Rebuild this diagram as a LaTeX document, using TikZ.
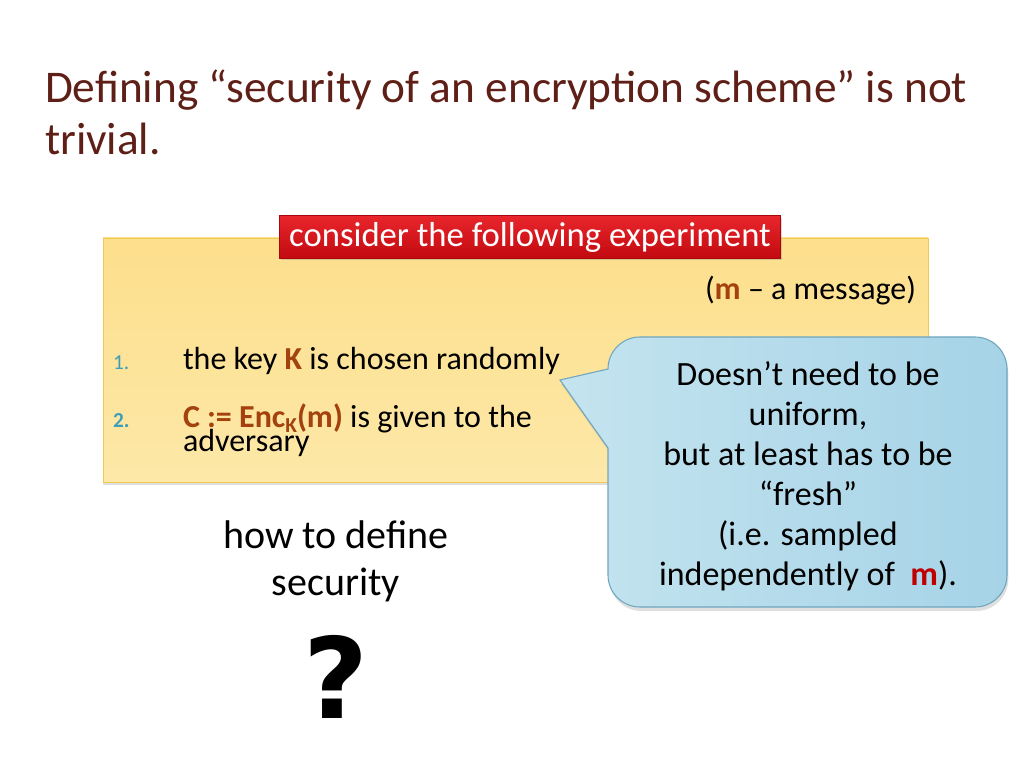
\documentclass[tikz,border=0pt]{standalone}
\usepackage{fontspec}
\setmainfont{Carlito}
\newfontfamily\qfont{DejaVu Sans}
\usetikzlibrary{positioning,shadows}

\definecolor{titlebrown}{HTML}{5E1F17}
\definecolor{keybrown}{HTML}{A3420E}
\definecolor{numteal}{HTML}{3D9EB8}
\definecolor{msgred}{HTML}{C00000}
\definecolor{boxtop}{HTML}{FDDF8C}
\definecolor{boxbottom}{HTML}{FDE8A8}
\definecolor{boxedge}{HTML}{F1C955}
\definecolor{labeltop}{HTML}{E8262C}
\definecolor{labelbottom}{HTML}{C20A10}
\definecolor{labeledge}{HTML}{A8070B}
\definecolor{bubbleleft}{HTML}{C4E4EF}
\definecolor{bubbleright}{HTML}{A6D3E7}
\definecolor{bubbleedge}{HTML}{6FA6BE}

\newcommand{\kb}[1]{\textbf{\textcolor{keybrown}{#1}}}
\newcommand{\tightlines}{\lineskiplimit=-30pt\relax}

\tikzset{
	every node/.style={inner sep=0pt, outer sep=0pt},
	titletext/.style={text=titlebrown, font=\fontsize{34}{39}\selectfont, align=left, anchor=base west},
	expbox/.style={draw=boxedge, line width=0.6pt, top color=boxtop, bottom color=boxbottom,
		drop shadow={opacity=0.25, shadow xshift=0pt, shadow yshift=-2pt}},
	redlabel/.style={draw=labeledge, line width=0.6pt, top color=labeltop, bottom color=labelbottom,
		text=white, font=\fontsize{26}{30}\selectfont, minimum width=376pt, minimum height=32pt,
		drop shadow={opacity=0.3, shadow xshift=1pt, shadow yshift=-1.5pt}},
	bodytext/.style={font=\fontsize{24}{18}\selectfont\tightlines, align=left, anchor=base west},
	numtext/.style={text=numteal, font=\fontsize{16}{18}\selectfont, anchor=base west},
	bubbleshape/.style={draw=bubbleedge, line width=0.8pt, left color=bubbleleft, right color=bubbleright,
		drop shadow={opacity=0.25, shadow xshift=1pt, shadow yshift=-3pt}},
	bubbletext/.style={font=\fontsize{25.5}{30}\selectfont, align=center, anchor=base},
	bigtext/.style={font=\fontsize{30}{35}\selectfont, align=center, anchor=base}
}

\begin{document}
\begin{tikzpicture}[x=0.75pt, y=0.75pt]
	\useasboundingbox (0,0) rectangle (1024,768);

	\node[titletext] (title) at (45,613)
	{Defining “security of an encryption scheme” is not\\trivial.};

	\draw[expbox] (103,286) rectangle (928,530);
	\node[redlabel] (label) at (530,531) {consider the following experiment};

	\node[bodytext, anchor=base east] (msg) at (916,468) {(\kb{m} – a message)};

	\node[numtext] (num1) at (113,398) {1.};
	\node[bodytext] (step1) at (183,398) {the key \kb{K} is chosen randomly};
	\node[numtext, font=\fontsize{16}{18}\selectfont\bfseries] (num2) at (113,340) {2.};
	\node[bodytext] (step2) at (183,316)
	{\kb{C := Enc\raisebox{-0.3ex}{\fontsize{16}{16}\selectfont K}(m)} is given to the\\adversary};

	\path[bubbleshape] (560,388) -- (608,399) arc[start angle=180, end angle=90, radius=24pt]
		-- (975,431) arc[start angle=90, end angle=0, radius=24pt]
		-- (1007,193) arc[start angle=0, end angle=-90, radius=24pt]
		-- (640,161) arc[start angle=270, end angle=180, radius=24pt]
		-- (608,320) -- cycle;
	\node[bubbletext] (fresh) at (808,183)
	{Doesn’t need to be\\uniform,\\but at least has to be\\“fresh”\\(i.e. sampled\\independently of \ \textbf{\textcolor{msgred}{m}}).};

	\node[bigtext] (howto) at (336,173) {how to define\\security};
	\node[font=\fontsize{84}{84}\selectfont\qfont\bfseries, anchor=base] (qmark) at (336,50) {?};
\end{tikzpicture}
\end{document}
